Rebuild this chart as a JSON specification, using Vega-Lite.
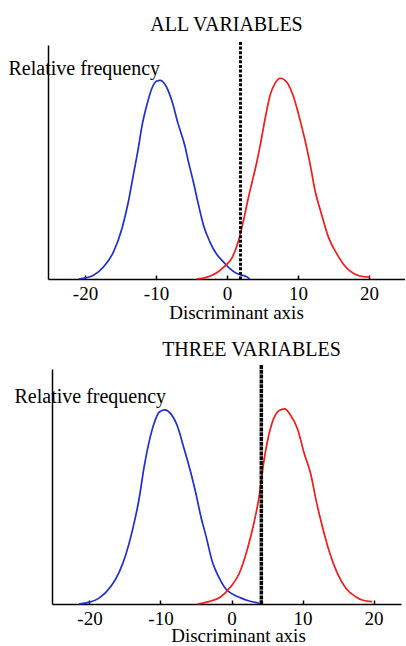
{
  "$schema": "https://vega.github.io/schema/vega-lite/v6.json",
  "background": "white",
  "padding": {"left": 8, "top": 15, "right": 0, "bottom": 0},
  "spacing": 18,
  "center": true,
  "config": {
    "font": "Liberation Serif",
    "view": {"stroke": null},
    "axis": {
      "grid": false,
      "domainColor": "black",
      "domainWidth": 1.5,
      "tickColor": "black",
      "tickWidth": 1.5,
      "labelColor": "black",
      "titleColor": "black",
      "labelFont": "Liberation Serif",
      "titleFont": "Liberation Serif",
      "titleFontWeight": "normal"
    },
    "title": {"font": "Liberation Serif", "fontWeight": "normal", "color": "black", "fontSize": 20, "baseline": "alphabetic"}
  },
  "datasets": {
    "all": [
      {"score": -20.9, "freq": 0, "group": "Group 1"},
      {"score": -18.8, "freq": 0.016, "group": "Group 1"},
      {"score": -17.4, "freq": 0.051, "group": "Group 1"},
      {"score": -16.0, "freq": 0.115, "group": "Group 1"},
      {"score": -14.8, "freq": 0.215, "group": "Group 1"},
      {"score": -13.9, "freq": 0.329, "group": "Group 1"},
      {"score": -13.2, "freq": 0.443, "group": "Group 1"},
      {"score": -12.5, "freq": 0.557, "group": "Group 1"},
      {"score": -12.0, "freq": 0.65, "group": "Group 1"},
      {"score": -11.3, "freq": 0.742, "group": "Group 1"},
      {"score": -10.6, "freq": 0.813, "group": "Group 1"},
      {"score": -9.9, "freq": 0.846, "group": "Group 1"},
      {"score": -9.4, "freq": 0.849, "group": "Group 1"},
      {"score": -8.7, "freq": 0.83, "group": "Group 1"},
      {"score": -7.8, "freq": 0.765, "group": "Group 1"},
      {"score": -6.9, "freq": 0.665, "group": "Group 1"},
      {"score": -5.9, "freq": 0.565, "group": "Group 1"},
      {"score": -5.5, "freq": 0.51, "group": "Group 1"},
      {"score": -4.7, "freq": 0.41, "group": "Group 1"},
      {"score": -4.0, "freq": 0.315, "group": "Group 1"},
      {"score": -3.3, "freq": 0.229, "group": "Group 1"},
      {"score": -2.4, "freq": 0.158, "group": "Group 1"},
      {"score": -1.5, "freq": 0.108, "group": "Group 1"},
      {"score": -0.5, "freq": 0.073, "group": "Group 1"},
      {"score": 0.4, "freq": 0.044, "group": "Group 1"},
      {"score": 1.4, "freq": 0.023, "group": "Group 1"},
      {"score": 2.8, "freq": 0.009, "group": "Group 1"},
      {"score": 3.2, "freq": 0, "group": "Group 1"},
      {"score": -4.3, "freq": 0, "group": "Group 2"},
      {"score": -2.9, "freq": 0.007, "group": "Group 2"},
      {"score": -1.5, "freq": 0.026, "group": "Group 2"},
      {"score": -0.5, "freq": 0.05, "group": "Group 2"},
      {"score": 0.7, "freq": 0.09, "group": "Group 2"},
      {"score": 1.6, "freq": 0.161, "group": "Group 2"},
      {"score": 2.3, "freq": 0.247, "group": "Group 2"},
      {"score": 3.0, "freq": 0.346, "group": "Group 2"},
      {"score": 3.5, "freq": 0.41, "group": "Group 2"},
      {"score": 4.2, "freq": 0.5, "group": "Group 2"},
      {"score": 4.7, "freq": 0.575, "group": "Group 2"},
      {"score": 5.4, "freq": 0.69, "group": "Group 2"},
      {"score": 6.1, "freq": 0.788, "group": "Group 2"},
      {"score": 6.8, "freq": 0.838, "group": "Group 2"},
      {"score": 7.5, "freq": 0.858, "group": "Group 2"},
      {"score": 8.4, "freq": 0.842, "group": "Group 2"},
      {"score": 9.3, "freq": 0.785, "group": "Group 2"},
      {"score": 10.3, "freq": 0.678, "group": "Group 2"},
      {"score": 11.0, "freq": 0.592, "group": "Group 2"},
      {"score": 11.7, "freq": 0.492, "group": "Group 2"},
      {"score": 12.4, "freq": 0.378, "group": "Group 2"},
      {"score": 13.3, "freq": 0.278, "group": "Group 2"},
      {"score": 14.3, "freq": 0.178, "group": "Group 2"},
      {"score": 15.5, "freq": 0.106, "group": "Group 2"},
      {"score": 16.4, "freq": 0.063, "group": "Group 2"},
      {"score": 17.3, "freq": 0.035, "group": "Group 2"},
      {"score": 18.7, "freq": 0.013, "group": "Group 2"},
      {"score": 20.1, "freq": 0.008, "group": "Group 2"}
    ],
    "three": [
      {"score": -21.5, "freq": 0, "group": "Group 1"},
      {"score": -20.1, "freq": 0.007, "group": "Group 1"},
      {"score": -18.7, "freq": 0.024, "group": "Group 1"},
      {"score": -17.0, "freq": 0.074, "group": "Group 1"},
      {"score": -15.8, "freq": 0.137, "group": "Group 1"},
      {"score": -14.9, "freq": 0.209, "group": "Group 1"},
      {"score": -14.0, "freq": 0.308, "group": "Group 1"},
      {"score": -13.0, "freq": 0.45, "group": "Group 1"},
      {"score": -12.3, "freq": 0.585, "group": "Group 1"},
      {"score": -11.6, "freq": 0.691, "group": "Group 1"},
      {"score": -10.9, "freq": 0.769, "group": "Group 1"},
      {"score": -10.2, "freq": 0.816, "group": "Group 1"},
      {"score": -9.4, "freq": 0.826, "group": "Group 1"},
      {"score": -8.6, "freq": 0.811, "group": "Group 1"},
      {"score": -7.6, "freq": 0.755, "group": "Group 1"},
      {"score": -6.7, "freq": 0.663, "group": "Group 1"},
      {"score": -5.7, "freq": 0.555, "group": "Group 1"},
      {"score": -5.0, "freq": 0.468, "group": "Group 1"},
      {"score": -4.3, "freq": 0.37, "group": "Group 1"},
      {"score": -3.6, "freq": 0.29, "group": "Group 1"},
      {"score": -2.7, "freq": 0.18, "group": "Group 1"},
      {"score": -1.8, "freq": 0.115, "group": "Group 1"},
      {"score": -0.8, "freq": 0.064, "group": "Group 1"},
      {"score": 0.1, "freq": 0.043, "group": "Group 1"},
      {"score": 1.3, "freq": 0.026, "group": "Group 1"},
      {"score": 2.5, "freq": 0.013, "group": "Group 1"},
      {"score": 3.9, "freq": 0.003, "group": "Group 1"},
      {"score": -4.8, "freq": 0, "group": "Group 2"},
      {"score": -3.2, "freq": 0.01, "group": "Group 2"},
      {"score": -1.5, "freq": 0.031, "group": "Group 2"},
      {"score": -0.1, "freq": 0.074, "group": "Group 2"},
      {"score": 1.1, "freq": 0.131, "group": "Group 2"},
      {"score": 2.2, "freq": 0.23, "group": "Group 2"},
      {"score": 3.2, "freq": 0.35, "group": "Group 2"},
      {"score": 3.9, "freq": 0.46, "group": "Group 2"},
      {"score": 4.4, "freq": 0.575, "group": "Group 2"},
      {"score": 5.0, "freq": 0.684, "group": "Group 2"},
      {"score": 5.7, "freq": 0.769, "group": "Group 2"},
      {"score": 6.7, "freq": 0.823, "group": "Group 2"},
      {"score": 7.5, "freq": 0.83, "group": "Group 2"},
      {"score": 8.3, "freq": 0.804, "group": "Group 2"},
      {"score": 9.3, "freq": 0.745, "group": "Group 2"},
      {"score": 10.2, "freq": 0.645, "group": "Group 2"},
      {"score": 11.2, "freq": 0.548, "group": "Group 2"},
      {"score": 11.9, "freq": 0.443, "group": "Group 2"},
      {"score": 12.8, "freq": 0.329, "group": "Group 2"},
      {"score": 13.7, "freq": 0.23, "group": "Group 2"},
      {"score": 14.9, "freq": 0.131, "group": "Group 2"},
      {"score": 16.1, "freq": 0.067, "group": "Group 2"},
      {"score": 17.5, "freq": 0.031, "group": "Group 2"},
      {"score": 18.4, "freq": 0.017, "group": "Group 2"},
      {"score": 19.8, "freq": 0.01, "group": "Group 2"}
    ]
  },
  "vconcat": [
    {
      "width": 357,
      "height": 234,
      "title": {"text": "ALL VARIABLES", "offset": 5},
      "layer": [
        {
          "data": {"name": "all"},
          "mark": {"type": "line", "interpolate": "monotone", "strokeWidth": 1.7},
          "encoding": {
            "x": {
              "field": "score", "type": "quantitative",
              "scale": {"domain": [-25.21, 25.07], "nice": false, "zero": false},
              "axis": {"title": "Discriminant axis", "values": [-20, -10, 0, 10, 20], "labelExpr": "'' + datum.value", "tickSize": -4, "labelPadding": 9, "labelFontSize": 19, "titleFontSize": 19, "titleX": 188, "titleY": 39, "titleBaseline": "alphabetic"}
            },
            "y": {
              "field": "freq", "type": "quantitative",
              "scale": {"domain": [0, 1], "nice": false},
              "axis": {"title": "Relative frequency", "labels": false, "ticks": false, "titleAngle": 0, "titleAlign": "left", "titleBaseline": "alphabetic", "titleX": -40, "titleY": 29, "titleFontSize": 20}
            },
            "color": {"field": "group", "type": "nominal", "scale": {"domain": ["Group 1", "Group 2"], "range": ["#1c2fd0", "#f41a1a"]}, "legend": null}
          }
        },
        {
          "data": {"values": [{"cutoff": 1.9}]},
          "mark": {"type": "rule", "color": "black", "strokeWidth": 3, "strokeDash": [3, 1.6]},
          "encoding": {
            "x": {"field": "cutoff", "type": "quantitative", "title": "Discriminant axis"},
            "y": {"datum": 1.013},
            "y2": {"datum": 0}
          }
        }
      ]
    },
    {
      "width": 349,
      "height": 235,
      "title": {"text": "THREE VARIABLES", "offset": 3, "dx": 25},
      "layer": [
        {
          "data": {"name": "three"},
          "mark": {"type": "line", "interpolate": "monotone", "strokeWidth": 1.7},
          "encoding": {
            "x": {
              "field": "score", "type": "quantitative",
              "scale": {"domain": [-25.28, 23.87], "nice": false, "zero": false},
              "axis": {"title": "Discriminant axis", "values": [-20, -10, 0, 10, 20], "labelExpr": "'' + datum.value", "tickSize": -4, "labelPadding": 9, "labelFontSize": 19, "titleFontSize": 19, "titleX": 186, "titleY": 37.5, "titleBaseline": "alphabetic"}
            },
            "y": {
              "field": "freq", "type": "quantitative",
              "scale": {"domain": [0, 1], "nice": false},
              "axis": {"title": "Relative frequency", "labels": false, "ticks": false, "titleAngle": 0, "titleAlign": "left", "titleBaseline": "alphabetic", "titleX": -38, "titleY": 33, "titleFontSize": 20}
            },
            "color": {"field": "group", "type": "nominal", "scale": {"domain": ["Group 1", "Group 2"], "range": ["#1c2fd0", "#f41a1a"]}, "legend": null}
          }
        },
        {
          "data": {"values": [{"cutoff": 4.2}]},
          "mark": {"type": "rule", "color": "black", "strokeWidth": 3.5, "strokeDash": [4, 0.8]},
          "encoding": {
            "x": {"field": "cutoff", "type": "quantitative", "title": "Discriminant axis"},
            "y": {"datum": 1.017},
            "y2": {"datum": 0}
          }
        }
      ]
    }
  ]
}
